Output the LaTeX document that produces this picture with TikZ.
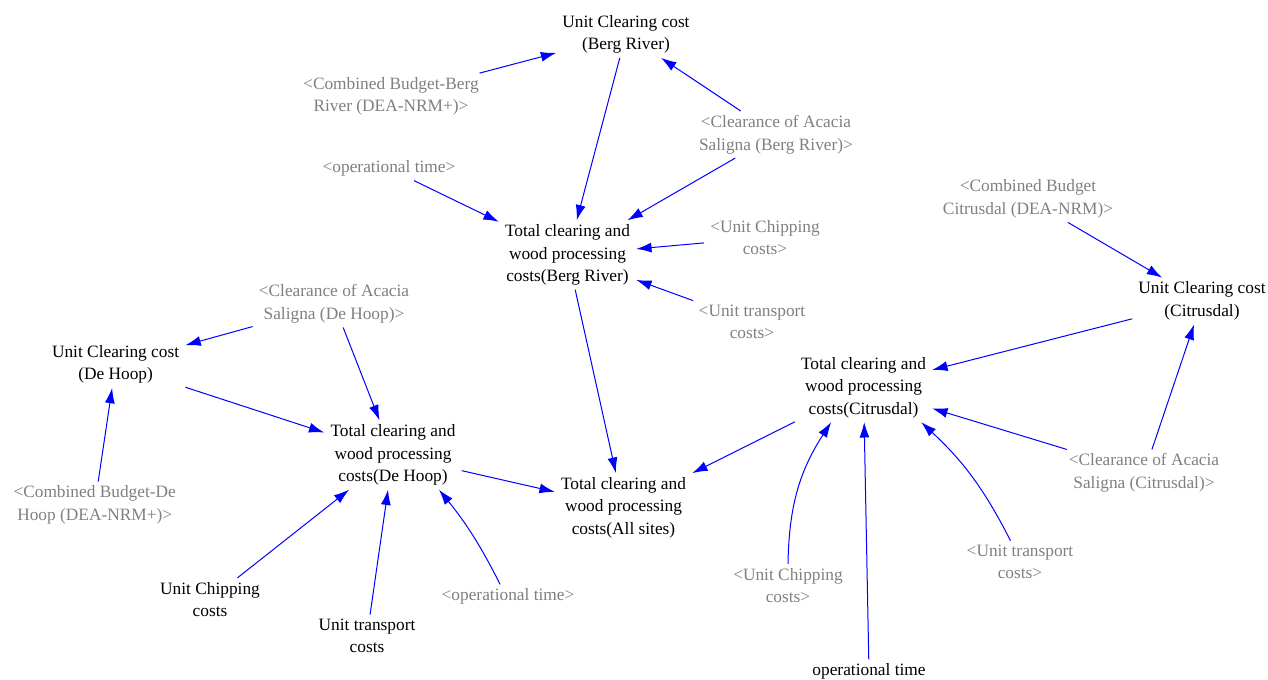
\documentclass[tikz,border=0pt]{standalone}
\usepackage{fontspec}
\setmainfont{Liberation Serif}
\usetikzlibrary{arrows.meta}
\definecolor{linkblue}{RGB}{0,0,255}
\definecolor{ghostgray}{RGB}{128,128,128}

\begin{document}
\begin{tikzpicture}[x=0.75pt,y=-0.75pt,
  var/.style={align=center, inner xsep=4.5pt, inner ysep=3pt,
              font=\fontsize{13}{16.9}\selectfont, text=black},
  ghost/.style={var, text=ghostgray},
  link/.style={draw=linkblue, line width=0.75pt,
               -{Latex[length=11.5pt,width=7.5pt]}},
]
\useasboundingbox (0,0) rectangle (1268,679);

% Berg River
\node[var]   (UCBR)  at (626,34.5)   {Unit Clearing cost\\(Berg River)};
\node[ghost] (CBBR)  at (391,96.5)   {<Combined Budget-Berg\\River (DEA-NRM+)>};
\node[ghost] (CLBR)  at (776,134.5)  {<Clearance of Acacia\\Saligna (Berg River)>};
\node[ghost] (OTBR)  at (389,168.5)  {<operational time>};
\node[var]   (TBR)   at (567.5,255)  {Total clearing and\\wood processing\\costs(Berg River)};
\node[ghost] (UCHBR) at (765,237.5)  {<Unit Chipping\\costs>};
\node[ghost] (UTBR)  at (752,322)    {<Unit transport\\costs>};

% De Hoop
\node[ghost] (CLDH)  at (334,304)    {<Clearance of Acacia\\Saligna (De Hoop)>};
\node[var]   (UCDH)  at (115.6,364.5){Unit Clearing cost\\(De Hoop)};
\node[ghost] (CBDH)  at (94.7,505)   {<Combined Budget-De\\Hoop (DEA-NRM+)>};
\node[var]   (TDH)   at (393,455)    {Total clearing and\\wood processing\\costs(De Hoop)};
\node[var]   (UCH)   at (210,599.5)  {Unit Chipping\\costs};
\node[var]   (UTR)   at (367,636)    {Unit transport\\costs};
\node[ghost] (OTDH)  at (508,596.5)  {<operational time>};

% All sites
\node[var]   (TALL)  at (623.5,507.5){Total clearing and\\wood processing\\costs(All sites)};

% Citrusdal
\node[ghost] (CBCIT) at (1028,199)   {<Combined Budget\\Citrusdal (DEA-NRM)>};
\node[var]   (UCCIT) at (1202,301)   {Unit Clearing cost\\(Citrusdal)};
\node[var]   (TCIT)  at (863.5,387.5){Total clearing and\\wood processing\\costs(Citrusdal)};
\node[ghost] (CLCIT) at (1144,473)   {<Clearance of Acacia\\Saligna (Citrusdal)>};
\node[ghost] (UCHCIT) at (788,585.5) {<Unit Chipping\\costs>};
\node[var]   (OTCIT) at (869,671.5)  {operational time};
\node[ghost] (UTCIT) at (1020,562)   {<Unit transport\\costs>};

% Berg River links
\draw[link] (CBBR) -- (UCBR);
\draw[link] (UCBR) -- (TBR);
\draw[link] (CLBR) -- (UCBR);
\draw[link] (CLBR) -- (TBR);
\draw[link] (OTBR) -- (TBR);
\draw[link] (UCHBR) -- (TBR);
\draw[link] (UTBR) -- (TBR);
\draw[link] (TBR) -- (TALL);

% De Hoop links
\draw[link] (CLDH) -- (UCDH);
\draw[link] (CLDH) -- (TDH);
\draw[link] (UCDH) -- (TDH);
\draw[link] (CBDH) -- (UCDH);
\draw[link] (TDH) -- (TALL);
\draw[link] (UCH) -- (TDH);
\draw[link] (UTR) -- (TDH);
\draw[link] (OTDH.123) to[bend right=6] (TDH.-37);

% Citrusdal links
\draw[link] (CBCIT) -- (UCCIT);
\draw[link] (UCCIT) -- (TCIT);
\draw[link] (CLCIT) -- (UCCIT);
\draw[link] (CLCIT) -- (TCIT);
\draw[link] (TCIT) -- (TALL);
\draw[link] (UCHCIT.north) to[bend left=16] (TCIT.-133);
\draw[link] (OTCIT) -- (TCIT);
\draw[link] (UTCIT.114) to[bend right=10] (TCIT.-31);
\end{tikzpicture}
\end{document}
